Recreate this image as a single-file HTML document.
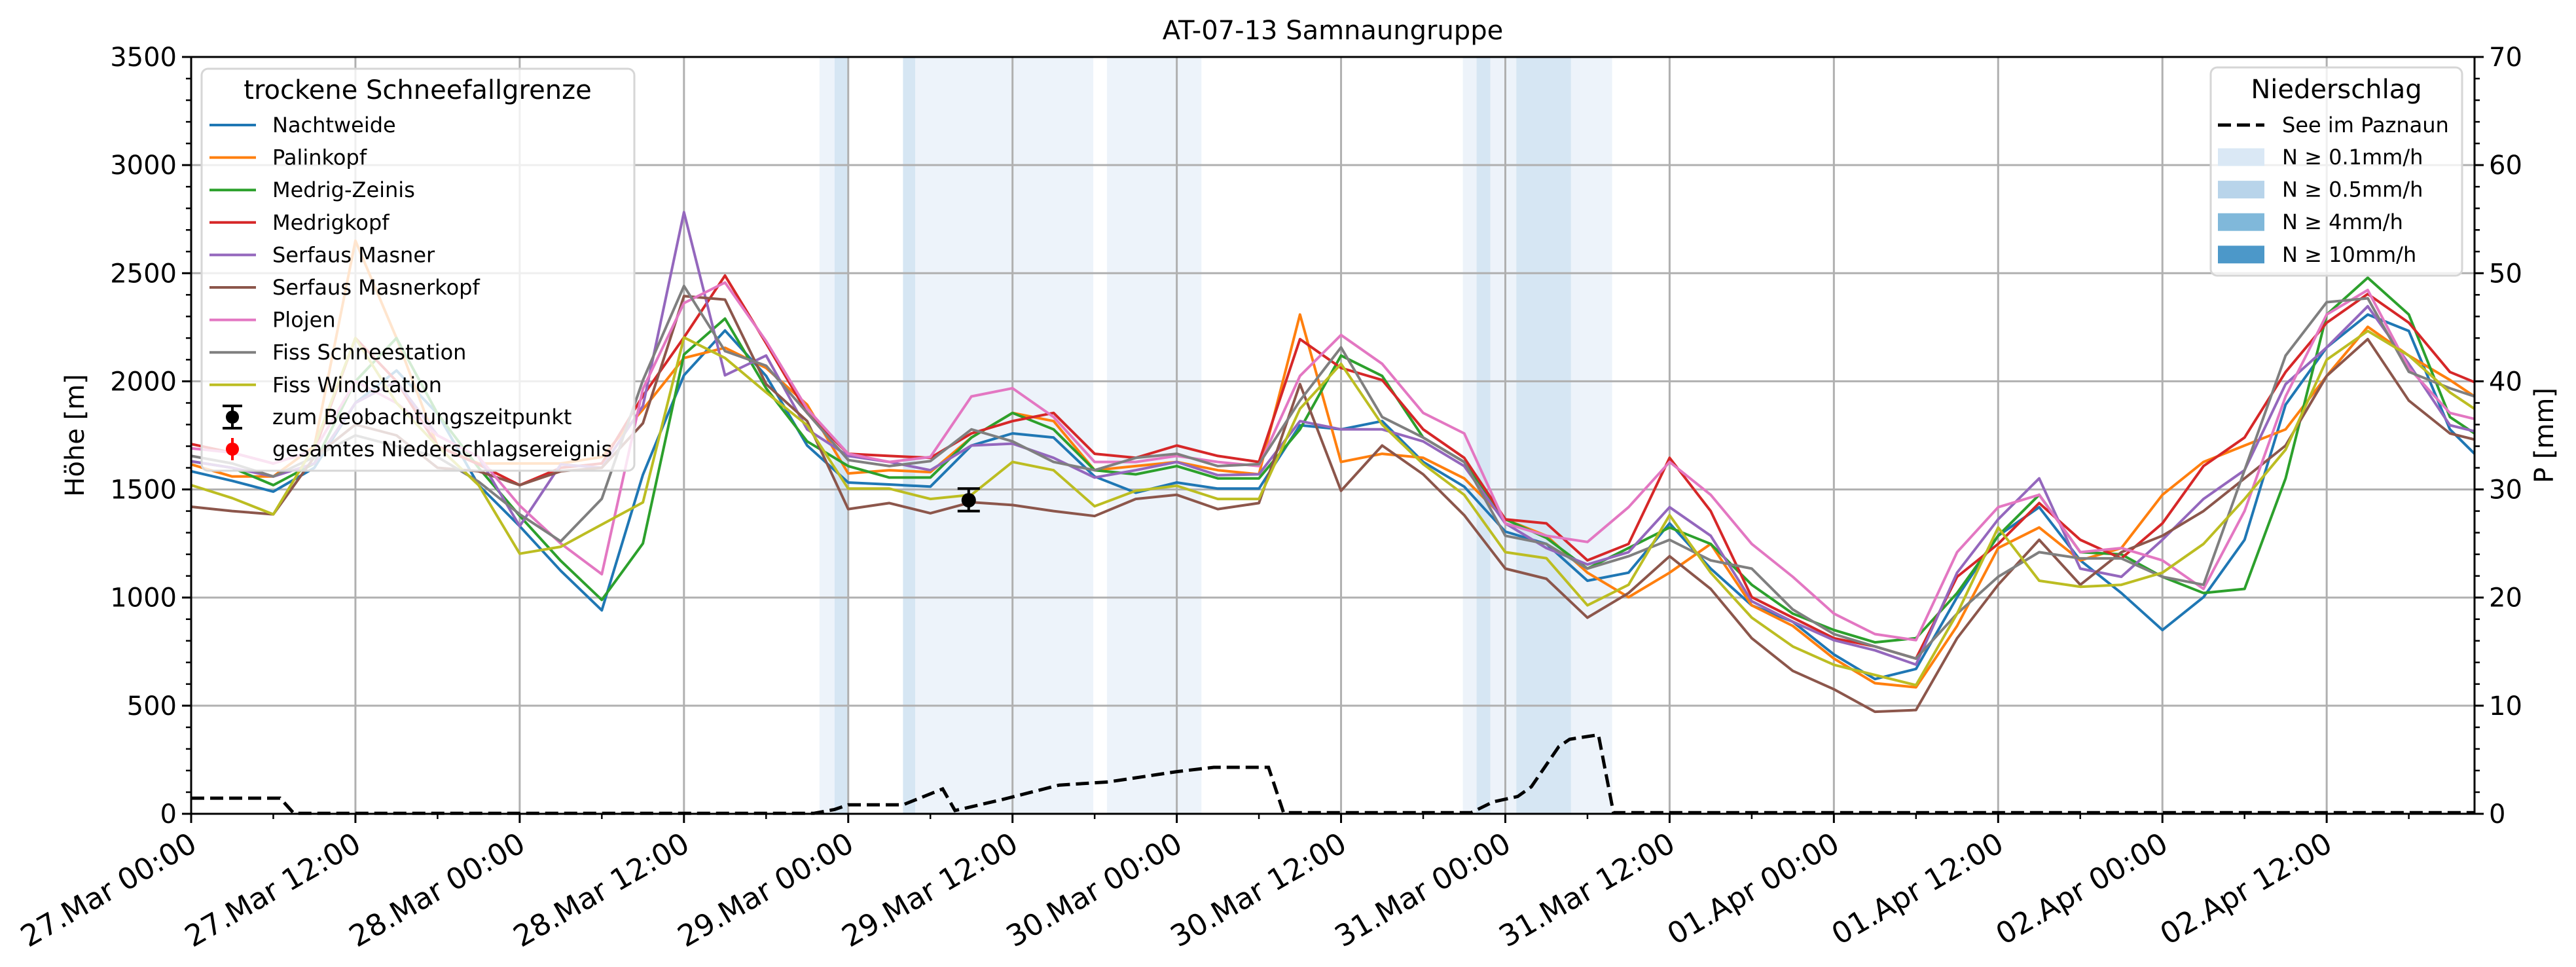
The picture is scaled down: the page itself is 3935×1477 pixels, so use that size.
<!DOCTYPE html>
<html><head><meta charset="utf-8"><style>
html,body{margin:0;padding:0;background:#fff;}
svg{display:block;font-family:"DejaVu Sans","Liberation Sans",sans-serif;}
</style></head><body>
<svg id="chart" width="3935" height="1477" viewBox="0 0 3935 1477" xmlns="http://www.w3.org/2000/svg">
<rect width="3935" height="1477" fill="#fff"/>
<g id="bands"></g>
<g id="grid"></g>
<g id="series"></g>
<g id="axes"></g>
<g id="legends"></g>
</svg>
<script>
const times=[0,3,6,9,12,15,18,21,24,27,30,33,36,39,42,45,48,51,54,57,60,63,66,69,72,75,78,81,84,87,90,93,96,99,102,105,108,111,114,117,120,123,126,129,132,135,138,141,144,147,150,153,156,159,162,165,166.8];
const nachtweide=[1584,1540,1490,1600,1900,2050,1850,1520,1330,1124,941,1568,2028,2235,2025,1703,1532,1523,1513,1703,1759,1740,1560,1485,1532,1504,1504,1797,1778,1816,1627,1513,1305,1248,1078,1115,1343,1134,964,888,737,623,670,1002,1286,1418,1172,1021,850,1002,1267,1892,2157,2309,2233,1778,1665];
const palinkopf=[1616,1560,1560,1700,2650,2200,1700,1620,1620,1620,1650,1870,2108,2155,2062,1892,1574,1589,1580,1740,1854,1816,1589,1608,1627,1589,1570,2309,1627,1665,1646,1551,1362,1286,1115,1002,1115,1248,964,869,718,604,585,869,1229,1324,1172,1229,1475,1627,1703,1778,2025,2252,2119,2006,1930];
const medrigZeinis=[1630,1600,1520,1620,2000,2200,1850,1600,1378,1170,989,1250,2124,2290,1968,1722,1608,1555,1555,1740,1854,1778,1589,1570,1608,1551,1551,1778,2119,2025,1740,1627,1362,1276,1134,1229,1324,1248,1059,926,850,793,812,1021,1286,1475,1210,1200,1096,1021,1040,1551,2309,2479,2309,1835,1759];
const medrigkopf=[1710,1670,1620,1680,2200,2000,1700,1616,1520,1600,1620,1933,2203,2489,2176,1854,1665,1655,1646,1759,1816,1854,1665,1646,1703,1655,1627,2195,2062,2006,1778,1646,1362,1343,1172,1248,1646,1400,1002,907,812,774,718,1096,1248,1437,1267,1181,1343,1608,1740,2043,2271,2404,2271,2043,1996];
const serfausMasner=[1630,1600,1560,1620,1900,2000,1750,1650,1330,1616,1600,1886,2782,2028,2119,1778,1655,1627,1589,1703,1712,1646,1555,1589,1627,1566,1570,1816,1778,1778,1722,1608,1343,1229,1153,1210,1418,1286,983,888,803,756,690,1115,1362,1551,1134,1096,1267,1456,1589,1987,2157,2347,2081,1797,1769];
const serfausMasnerkopf=[1420,1400,1385,1650,1800,1750,1600,1584,1520,1584,1600,1806,2394,2378,1987,1816,1409,1437,1390,1441,1428,1400,1377,1456,1475,1409,1437,1987,1494,1703,1570,1381,1134,1087,907,1021,1191,1040,812,661,576,472,480,812,1059,1267,1059,1210,1286,1400,1551,1703,2025,2195,1911,1759,1731];
const plojen=[1690,1670,1620,1680,2000,1900,1750,1650,1425,1250,1108,1965,2362,2457,2186,1873,1665,1627,1650,1930,1968,1835,1627,1627,1655,1627,1608,2025,2214,2081,1854,1759,1343,1286,1257,1418,1627,1475,1248,1096,926,831,803,1210,1418,1475,1210,1229,1172,1040,1400,1930,2309,2422,2062,1854,1826];
const fissSchnee=[1655,1620,1560,1650,1750,1700,1650,1536,1385,1260,1457,2005,2441,2140,2072,1854,1636,1608,1631,1778,1722,1627,1589,1646,1665,1608,1617,1911,2157,1835,1740,1627,1286,1248,1134,1191,1267,1172,1134,945,831,774,718,926,1096,1210,1181,1181,1096,1059,1589,2119,2366,2384,2044,1968,1930];
const fissWind=[1520,1460,1385,1700,2200,1900,1700,1520,1203,1235,1338,1440,2203,2108,1949,1797,1504,1504,1456,1475,1627,1589,1422,1494,1517,1456,1456,1873,2081,1800,1617,1475,1210,1182,964,1059,1381,1115,907,774,689,642,595,926,1324,1078,1050,1059,1115,1248,1456,1684,2100,2233,2119,1949,1873];
const stationNames=["Nachtweide","Palinkopf","Medrig-Zeinis","Medrigkopf","Serfaus Masner","Serfaus Masnerkopf","Plojen","Fiss Schneestation","Fiss Windstation"];
const precipTimes=[0,6.5,7.5,45.5,47,48,52,54.9,55.8,59.2,63.4,67,72,74.7,78.7,79.8,93.5,95.1,96.9,97.9,99.9,100.7,102.8,103.9,166.8];
const precipValues=[1.45,1.45,0.05,0.05,0.4,0.83,0.83,2.3,0.3,1.3,2.65,2.95,3.9,4.3,4.3,0.1,0.1,1.1,1.6,2.5,6.2,6.9,7.3,0.1,0.1];
const bandStarts=[45.9,47.0,52.0,52.9,66.9,92.9,93.9,94.9,96.8,100.8];
const bandEnds=[47.0,48.0,52.9,65.9,73.8,93.9,94.9,96.8,100.8,103.8];
const bandLevels=[0,1,1,0,0,0,1,0,1,0];
const obsTime=[56.8];const obsValue=[1450];const obsLow=[1400];const obsHigh=[1504];
const xTickLabels=["27.Mar 00:00","27.Mar 12:00","28.Mar 00:00","28.Mar 12:00","29.Mar 00:00","29.Mar 12:00","30.Mar 00:00","30.Mar 12:00","31.Mar 00:00","31.Mar 12:00","01.Apr 00:00","01.Apr 12:00","02.Apr 00:00","02.Apr 12:00"];
const yLeftTicks=[0,500,1000,1500,2000,2500,3000,3500];
const yRightTicks=[0,10,20,30,40,50,60,70];

const NS="http://www.w3.org/2000/svg";
const L=292,R=3780,T=87,B=1243;
const X0=0,X1=166.8;
function x(t){return L+(t-X0)/(X1-X0)*(R-L);}
function yL(v){return B-v/3500*(B-T);}
function yR(v){return B-v/70*(B-T);}
function mk(tag,attrs,parent){const e=document.createElementNS(NS,tag);for(const k in attrs)e.setAttribute(k,attrs[k]);parent.appendChild(e);return e;}
const colors=["#1f77b4","#ff7f0e","#2ca02c","#d62728","#9467bd","#8c564b","#e377c2","#7f7f7f","#bcbd22"];
const seriesData=[nachtweide,palinkopf,medrigZeinis,medrigkopf,serfausMasner,serfausMasnerkopf,plojen,fissSchnee,fissWind];
const bandColors=["#edf3fa","#d6e6f3"];

const gB=document.getElementById('bands');
for(let i=0;i<bandStarts.length;i++){
  const r=mk('rect',{x:x(bandStarts[i]),y:T,width:x(bandEnds[i])-x(bandStarts[i]),height:B-T,fill:bandColors[bandLevels[i]]},gB);
  
  
}
const gG=document.getElementById('grid');
for(let i=0;i<xTickLabels.length;i++){const gx=x(i*12);const l=mk('line',{x1:gx,x2:gx,y1:T,y2:B,stroke:'#b0b0b0','stroke-width':3},gG);
  
  }
for(const v of yLeftTicks){const l=mk('line',{x1:L,x2:R,y1:yL(v),y2:yL(v),stroke:'#b0b0b0','stroke-width':3},gG);
  
  }

const gS=document.getElementById('series');
for(let s=0;s<seriesData.length;s++){
  const pts=times.map((t,i)=>x(t).toFixed(1)+','+yL(seriesData[s][i]).toFixed(1)).join(' ');
  const p=mk('polyline',{points:pts,fill:'none',stroke:colors[s],'stroke-width':4,'stroke-linejoin':'round'},gS);
  
  
}
const pp=mk('polyline',{points:precipTimes.map((t,i)=>x(t).toFixed(1)+','+yR(precipValues[i]).toFixed(1)).join(' '),fill:'none',stroke:'#000','stroke-width':5,'stroke-dasharray':'20,9'},gS);


for(let i=0;i<obsTime.length;i++){
  const ex=x(obsTime[i]);
  const g=mk('g',{},gS);
  
  
  mk('line',{x1:ex,x2:ex,y1:yL(obsLow[i]),y2:yL(obsHigh[i]),stroke:'#000','stroke-width':4},g);
  mk('line',{x1:ex-17,x2:ex+17,y1:yL(obsLow[i]),y2:yL(obsLow[i]),stroke:'#000','stroke-width':4},g);
  mk('line',{x1:ex-17,x2:ex+17,y1:yL(obsHigh[i]),y2:yL(obsHigh[i]),stroke:'#000','stroke-width':4},g);
  mk('circle',{cx:ex,cy:yL(obsValue[i]),r:11,fill:'#000'},g);
}

const gA=document.getElementById('axes');
mk('rect',{x:L,y:T,width:R-L,height:B-T,fill:'none',stroke:'#000','stroke-width':3},gA);
for(let i=0;i<xTickLabels.length;i++){
  const tx=x(i*12);
  mk('line',{x1:tx,x2:tx,y1:B,y2:B+14,stroke:'#000','stroke-width':3},gA);
  const t=mk('text',{x:0,y:0,'text-anchor':'end','font-size':45,dy:'0.78em',transform:`translate(${tx-6},${B+24}) rotate(-30)`},gA);
  t.textContent=xTickLabels[i];
  
  
}
for(let h=6;h<X1;h+=12){const tx=x(h);mk('line',{x1:tx,x2:tx,y1:B,y2:B+8,stroke:'#000','stroke-width':2.5},gA);}
for(const v of yLeftTicks){
  mk('line',{x1:L-14,x2:L,y1:yL(v),y2:yL(v),stroke:'#000','stroke-width':3},gA);
  const t=mk('text',{x:L-22,y:yL(v)+14,'text-anchor':'end','font-size':40},gA);
  t.textContent=v;
  
  
}
for(let v=100;v<3500;v+=100){if(v%500)mk('line',{x1:L-8,x2:L,y1:yL(v),y2:yL(v),stroke:'#000','stroke-width':2.5},gA);}
for(const v of yRightTicks){
  mk('line',{x1:R,x2:R+14,y1:yR(v),y2:yR(v),stroke:'#000','stroke-width':3},gA);
  const t=mk('text',{x:R+22,y:yR(v)+14,'text-anchor':'start','font-size':40},gA);
  t.textContent=v;
  
  
}
for(let v=2;v<70;v+=2){if(v%10)mk('line',{x1:R,x2:R+8,y1:yR(v),y2:yR(v),stroke:'#000','stroke-width':2.5},gA);}
let t=mk('text',{x:(L+R)/2,y:60,'text-anchor':'middle','font-size':40},gA);t.textContent='AT-07-13 Samnaungruppe';


t=mk('text',{x:0,y:0,'text-anchor':'middle','font-size':40,transform:`translate(128,${(T+B)/2}) rotate(-90)`},gA);t.textContent='Höhe [m]';


t=mk('text',{x:0,y:0,'text-anchor':'middle','font-size':40,transform:`translate(3900,${(T+B)/2}) rotate(-90)`},gA);t.textContent='P [mm]';



const gL=document.getElementById('legends');
const lg1=mk('g',{},gL);


mk('rect',{x:308,y:105,width:661,height:614,rx:10,fill:'#fff','fill-opacity':0.8,stroke:'#d6d6d6','stroke-width':3},lg1);
t=mk('text',{x:638,y:151,'text-anchor':'middle','font-size':40},lg1);t.textContent='trockene Schneefallgrenze';
for(let s=0;s<stationNames.length;s++){
  const cy=191+s*49.6;
  const e=mk('g',{},lg1);
  
  
  mk('line',{x1:320,x2:391,y1:cy,y2:cy,stroke:colors[s],'stroke-width':4},e);
  const tt=mk('text',{x:416,y:cy+11,'font-size':32},e);tt.textContent=stationNames[s];
}
const extra=[['zum Beobachtungszeitpunkt','#000',637],['gesamtes Niederschlagsereignis','#f00',686]];
for(const [lab,c,cy] of extra){
  const e=mk('g',{},lg1);
  
  
  mk('line',{x1:355,x2:355,y1:cy-17,y2:cy+17,stroke:c,'stroke-width':4},e);
  if(c==='#000'){mk('line',{x1:340,x2:370,y1:cy-17,y2:cy-17,stroke:c,'stroke-width':4},e);mk('line',{x1:340,x2:370,y1:cy+17,y2:cy+17,stroke:c,'stroke-width':4},e);}
  mk('circle',{cx:355,cy:cy,r:10,fill:c},e);
  const tt=mk('text',{x:416,y:cy+11,'font-size':32},e);tt.textContent=lab;
}
const lg2=mk('g',{},gL);


mk('rect',{x:3377,y:103,width:384,height:318,rx:10,fill:'#fff','fill-opacity':0.8,stroke:'#d6d6d6','stroke-width':3},lg2);
t=mk('text',{x:3569,y:150,'text-anchor':'middle','font-size':40},lg2);t.textContent='Niederschlag';
let e=mk('g',{},lg2);


mk('line',{x1:3388,x2:3459,y1:191,y2:191,stroke:'#000','stroke-width':5,'stroke-dasharray':'20,9'},e);
t=mk('text',{x:3486,y:202,'font-size':32},e);t.textContent='See im Paznaun';
const patchCols=['#dae8f5','#b8d4ea','#80b8da','#4c98c9'];
const patchLabs=['N ≥ 0.1mm/h','N ≥ 0.5mm/h','N ≥ 4mm/h','N ≥ 10mm/h'];
for(let i=0;i<4;i++){
  const cy=240+i*49.6;
  e=mk('g',{},lg2);
  
  
  mk('rect',{x:3388,y:cy-13.5,width:71,height:27,fill:patchCols[i]},e);
  t=mk('text',{x:3486,y:cy+11,'font-size':32},e);t.textContent=patchLabs[i];
}
</script>
</body></html>
